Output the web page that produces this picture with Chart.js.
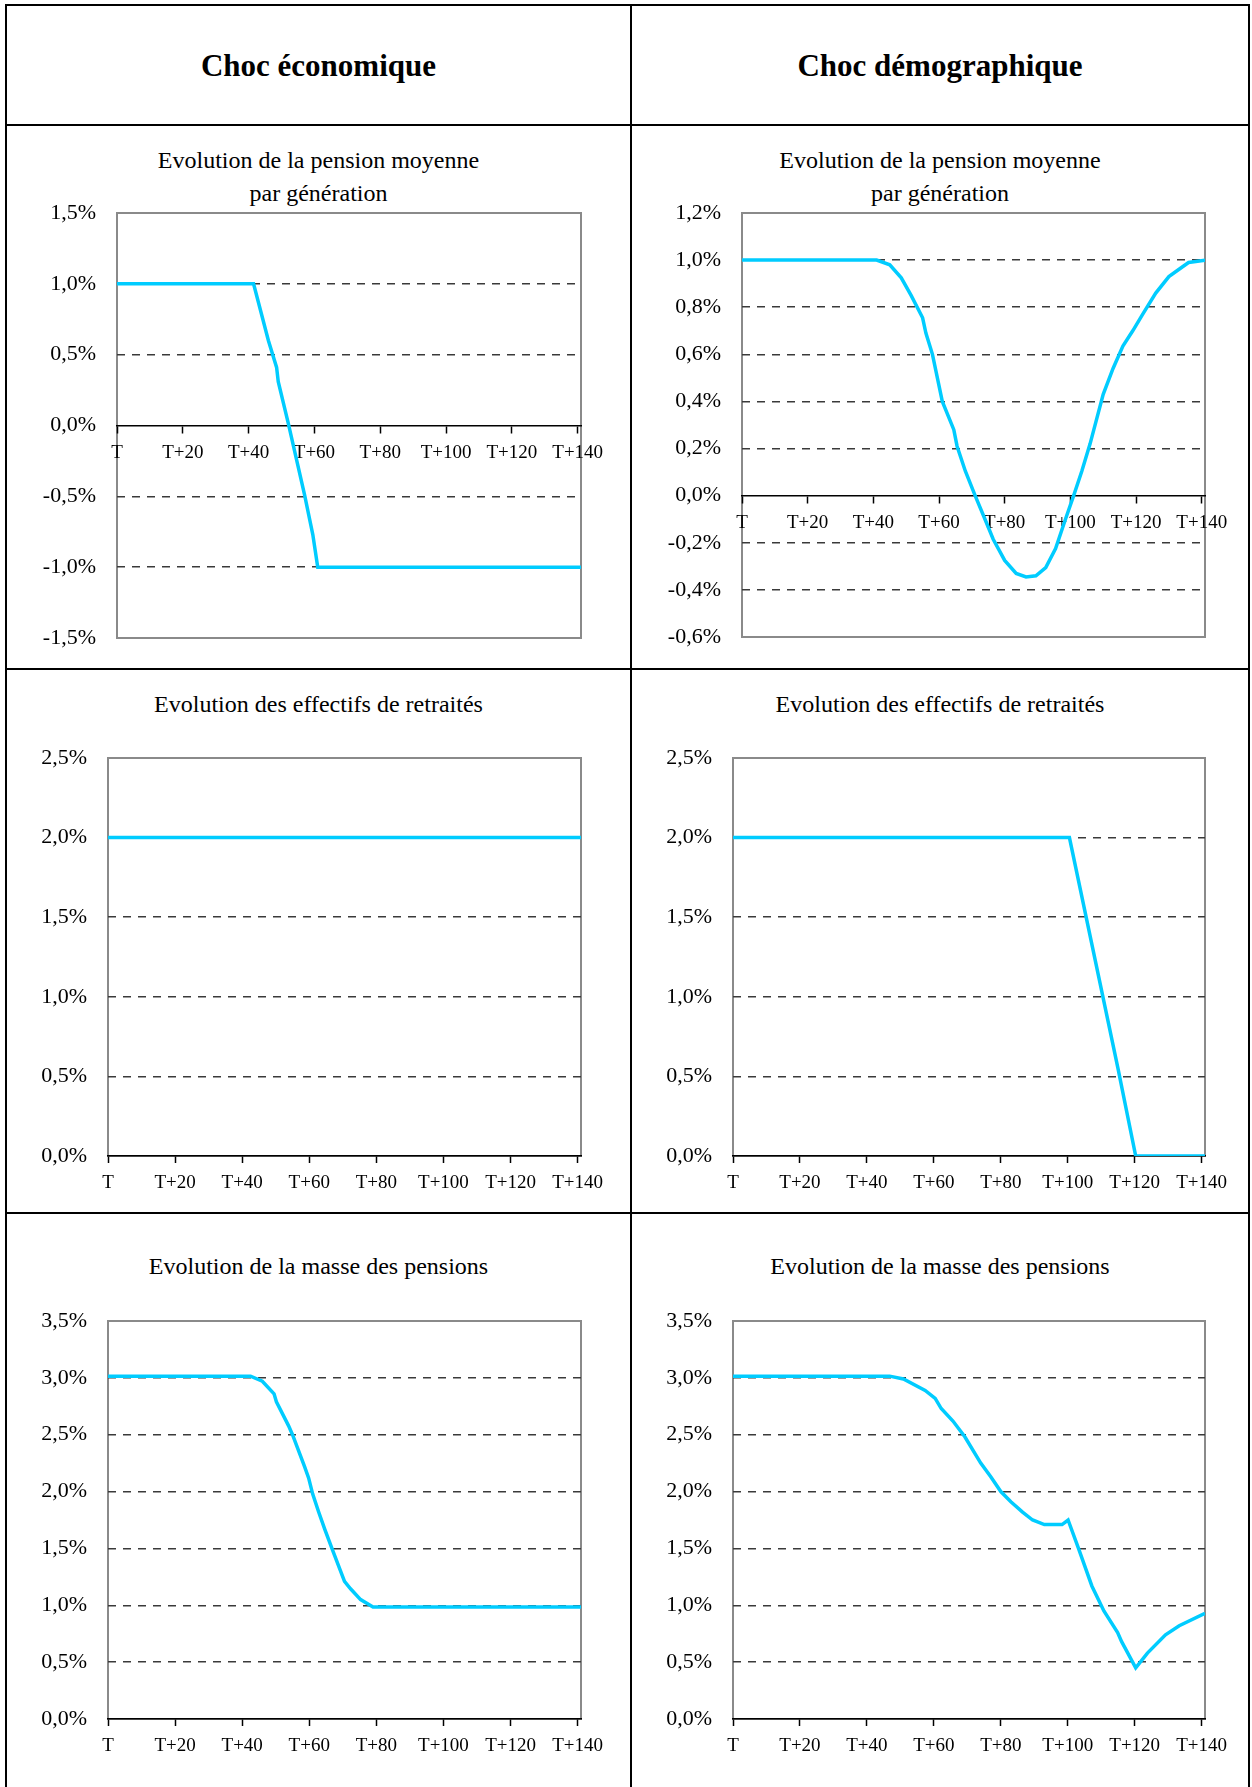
<!DOCTYPE html>
<html>
<head>
<meta charset="utf-8">
<script src="https://cdn.jsdelivr.net/npm/chart.js@4.4.0/dist/chart.umd.min.js"></script>
<style>
	body { margin: 0; background: #fff; width: 1252px; height: 1787px; position: relative; overflow: hidden; font-family: "Liberation Serif", "Times New Roman", serif; color: #000; }
	.rule { position: absolute; background: #000; }
	.head { position: absolute; font-weight: bold; font-size: 31px; text-align: center; }
	.title { position: absolute; font-size: 24px; text-align: center; line-height: 33.4px; }
	canvas { position: absolute; left: 0; top: 0; }
</style>
</head>
<body>

<div class="rule" style="left:5px; top:4px; width:1245px; height:2px"></div>
<div class="rule" style="left:5px; top:124px; width:1245px; height:2px"></div>
<div class="rule" style="left:5px; top:668px; width:1245px; height:2px"></div>
<div class="rule" style="left:5px; top:1212px; width:1245px; height:2px"></div>
<div class="rule" style="left:5px; top:4px; width:2px; height:1783px"></div>
<div class="rule" style="left:630px; top:4px; width:2px; height:1783px"></div>
<div class="rule" style="left:1248px; top:4px; width:2px; height:1783px"></div>

<div class="head" style="left:6px; width:625px; top:7px; height:118px; line-height:118px">Choc économique</div>
<div class="head" style="left:632px; width:616px; top:7px; height:118px; line-height:118px">Choc démographique</div>

<div class="title" style="left:6px; width:625px; top:144px">Evolution de la pension moyenne<br>par génération</div>
<div class="title" style="left:632px; width:616px; top:144px">Evolution de la pension moyenne<br>par génération</div>
<div class="title" style="left:6px; width:625px; top:688px">Evolution des effectifs de retraités</div>
<div class="title" style="left:632px; width:616px; top:688px">Evolution des effectifs de retraités</div>
<div class="title" style="left:6px; width:625px; top:1250px">Evolution de la masse des pensions</div>
<div class="title" style="left:632px; width:616px; top:1250px">Evolution de la masse des pensions</div>

<canvas id="c1" width="1252" height="1787"></canvas>
<canvas id="c2" width="1252" height="1787"></canvas>
<canvas id="c3" width="1252" height="1787"></canvas>
<canvas id="c4" width="1252" height="1787"></canvas>
<canvas id="c5" width="1252" height="1787"></canvas>
<canvas id="c6" width="1252" height="1787"></canvas>

<script>
// horizon (years after T)
const xTickValues = [0, 20, 40, 60, 80, 100, 120, 140];
const xTickLabels = ['T', 'T+20', 'T+40', 'T+60', 'T+80', 'T+100', 'T+120', 'T+140'];
const xMax = 141;

// y tick values (in %)
const econPensionTicks = [-1.5, -1, -0.5, 0, 0.5, 1, 1.5];
const demoPensionTicks = [-0.6, -0.4, -0.2, 0, 0.2, 0.4, 0.6, 0.8, 1.0, 1.2];
const effectifsTicks = [0, 0.5, 1, 1.5, 2, 2.5];
const masseTicks = [0, 0.5, 1, 1.5, 2, 2.5, 3, 3.5];

// Choc économique - pension moyenne par génération
const econPensionYears = [0, 41.5, 46, 48.5, 49, 52, 57, 59.5, 61, 141];
const econPensionValues = [1.0, 1.0, 0.6, 0.41, 0.31, 0.02, -0.49, -0.77, -1.0, -1.0];

// Choc démographique - pension moyenne par génération
const demoPensionYears = [0, 41, 45, 48.5, 51.5, 55, 56, 58, 61, 64.5, 65.5, 68, 71, 74, 76.5, 80, 83.5, 86.5, 89.5, 92.5, 95.5, 98.5, 101, 103.5, 106, 110, 113, 116, 119, 122, 126, 130, 133, 136, 141];
const demoPensionValues = [1.0, 1.0, 0.98, 0.925, 0.85, 0.755, 0.69, 0.6, 0.4, 0.28, 0.21, 0.105, 0, -0.1, -0.185, -0.275, -0.33, -0.345, -0.34, -0.305, -0.225, -0.1, 0, 0.105, 0.22, 0.43, 0.54, 0.635, 0.7, 0.77, 0.86, 0.93, 0.96, 0.99, 1.0];

// Choc économique - effectifs de retraités
const econEffectifsYears = [0, 141];
const econEffectifsValues = [2.0, 2.0];

// Choc démographique - effectifs de retraités
const demoEffectifsYears = [0, 100.5, 115, 120.3, 141];
const demoEffectifsValues = [2.0, 2.0, 0.55, 0, 0];

// Choc économique - masse des pensions
const econMasseYears = [0, 42.5, 46, 49.5, 50.2, 53.8, 55, 58.6, 59.8, 61, 62.8, 64.6, 67, 70.5, 72.3, 75.3, 79, 141];
const econMasseValues = [3.015, 3.015, 2.97, 2.86, 2.79, 2.58, 2.5, 2.22, 2.12, 1.98, 1.82, 1.67, 1.48, 1.21, 1.145, 1.05, 0.985, 0.985];

// Choc démographique - masse des pensions
const demoMasseYears = [0, 46.8, 50.9, 57.4, 60.4, 62.2, 65.7, 69.3, 74, 77, 80, 83, 86.5, 89.5, 93, 98.3, 100.1, 103.1, 107.2, 110.8, 114.9, 116.1, 120.3, 123.8, 129.2, 133.3, 141];
const demoMasseValues = [3.015, 3.015, 2.99, 2.89, 2.82, 2.73, 2.62, 2.48, 2.25, 2.13, 2.0, 1.91, 1.82, 1.75, 1.71, 1.71, 1.75, 1.51, 1.17, 0.95, 0.76, 0.68, 0.45, 0.58, 0.74, 0.82, 0.93];

Chart.defaults.font.family = '"Liberation Serif", "Times New Roman", serif';
Chart.defaults.color = '#000';

const W = 1252, H = 1787;
const yAxisWidth = 90, xAxisHeight = 40;

// gray frame around the plot area
const framePlugin = {
	id: 'frame',
	beforeDraw(chart) {
		const {ctx, chartArea: a} = chart;
		ctx.save();
		ctx.strokeStyle = '#8a8a8a';
		ctx.lineWidth = 2;
		ctx.strokeRect(a.left, a.top, a.right - a.left, a.bottom - a.top);
		ctx.restore();
	}
};

function fmtPct(v) {
	return v.toFixed(1).replace('.', ',') + '%';
}

function makeChart(id, years, values, yTicks, box, axisAtZero) {
	const yMin = yTicks[0], yMax = yTicks[yTicks.length - 1];

	return new Chart(document.getElementById(id), {
		type: 'line',
		data: {
			datasets: [{
				data: years.map((x, i) => ({x: x, y: values[i]})),
				borderColor: '#00CCFF',
				borderWidth: 3.5,
				pointRadius: 0,
				tension: 0,
				fill: false
			}]
		},
		options: {
			responsive: false,
			animation: false,
			events: [],
			layout: {
				padding: {
					left: box.left - yAxisWidth,
					right: W - box.right,
					top: box.top,
					bottom: axisAtZero ? H - box.bottom : H - box.bottom - xAxisHeight
				}
			},
			plugins: {
				legend: { display: false },
				tooltip: { enabled: false }
			},
			scales: {
				x: {
					type: 'linear',
					min: 0,
					max: xMax,
					position: axisAtZero ? {y: 0} : 'bottom',
					afterBuildTicks: (scale) => { scale.ticks = xTickValues.map(v => ({value: v})); },
					afterFit: (scale) => { if (!axisAtZero) scale.height = xAxisHeight; },
					grid: {
						drawOnChartArea: false,
						drawTicks: true,
						tickLength: 7,
						tickColor: '#000',
						tickWidth: 1.5
					},
					border: { display: true, color: '#000', width: 1.5 },
					ticks: {
						padding: 9,
						autoSkip: false,
						maxRotation: 0,
						font: { size: 19 },
						callback: (v, i) => xTickLabels[i]
					}
				},
				y: {
					min: yMin,
					max: yMax,
					afterBuildTicks: (scale) => { scale.ticks = yTicks.map(v => ({value: v})); },
					afterFit: (scale) => { scale.width = yAxisWidth; },
					grid: {
						drawTicks: false,
						lineWidth: 1.5,
						color: (ctx) => {
							const v = ctx.tick ? ctx.tick.value : null;
							if (v === null || Math.abs(v) < 1e-9 || v === yMin || v === yMax) return 'rgba(0,0,0,0)';
							return '#3a3a3a';
						}
					},
					border: { display: false, dash: [8, 7] },
					ticks: {
						padding: 21,
						font: { size: 22 },
						callback: (v) => fmtPct(v)
					}
				}
			}
		},
		plugins: [framePlugin]
	});
}

makeChart('c1', econPensionYears, econPensionValues, econPensionTicks, {left: 117, right: 581, top: 213, bottom: 638}, true);
makeChart('c2', demoPensionYears, demoPensionValues, demoPensionTicks, {left: 742, right: 1205, top: 213, bottom: 637}, true);
makeChart('c3', econEffectifsYears, econEffectifsValues, effectifsTicks, {left: 108, right: 581, top: 758, bottom: 1156}, false);
makeChart('c4', demoEffectifsYears, demoEffectifsValues, effectifsTicks, {left: 733, right: 1205, top: 758, bottom: 1156}, false);
makeChart('c5', econMasseYears, econMasseValues, masseTicks, {left: 108, right: 581, top: 1321, bottom: 1719}, false);
makeChart('c6', demoMasseYears, demoMasseValues, masseTicks, {left: 733, right: 1205, top: 1321, bottom: 1719}, false);
</script>
</body>
</html>
